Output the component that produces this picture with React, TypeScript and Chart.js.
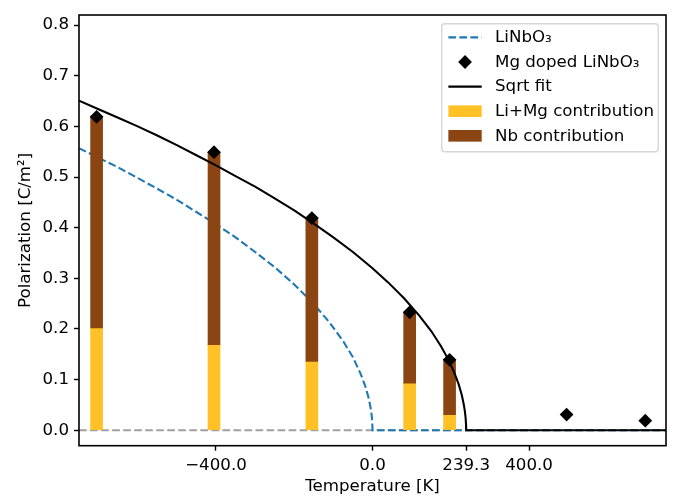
import React, { useEffect, useRef } from 'react';
import { Chart, registerables } from 'chart.js';

Chart.register(...registerables);

// ---- data ----
const sampleT = [-705, -405, -155, 95, 197];
const liMgContribution = [0.202, 0.169, 0.136, 0.093, 0.031];
const totalPolarization = [0.619, 0.549, 0.419, 0.233, 0.139];

const dopedT = [-705, -405, -155, 95, 197, 496, 697];
const dopedP = [0.619, 0.549, 0.419, 0.233, 0.139, 0.031, 0.019];

const fitT = [-750, -700, -650, -600, -550, -500, -450, -400, -350, -300, -250, -200, -150, -100, -50, 0, 40, 80, 120, 150, 175, 195, 210, 220, 228, 233, 236, 238, 239, 239.3, 750];
const fitP = [0.651, 0.634, 0.617, 0.6, 0.582, 0.563, 0.543, 0.523, 0.502, 0.481, 0.458, 0.434, 0.408, 0.381, 0.352, 0.32, 0.292, 0.261, 0.226, 0.196, 0.166, 0.138, 0.112, 0.091, 0.07, 0.052, 0.038, 0.024, 0.011, 0, 0];

const pureT = [-750, -700, -650, -600, -550, -500, -450, -400, -350, -300, -250, -200, -150, -110, -75, -50, -30, -18, -10, -5, -2, -0.5, 0, 750];
const pureP = [0.557, 0.538, 0.519, 0.498, 0.477, 0.455, 0.431, 0.407, 0.381, 0.352, 0.322, 0.288, 0.249, 0.213, 0.176, 0.144, 0.111, 0.086, 0.064, 0.045, 0.029, 0.014, 0, 0];

const zeroT = [-750, 750];
const zeroP = [0, 0];

const xTicks = [-400, 0, 239.3, 400];
const yTicks = [0, 0.1, 0.2, 0.3, 0.4, 0.5, 0.6, 0.7, 0.8];

const labelPure = 'LiNbO\u2083';
const labelDoped = 'Mg doped LiNbO\u2083';
const labelFit = 'Sqrt fit';
const labelLiMg = 'Li+Mg contribution';
const labelNb = 'Nb contribution';

const BLUE = '#1f77b4';
const YELLOW = '#FFC125';
const BROWN = '#8B4513';
const FS = 16.67;
const FONT = 'DejaVu Sans';

const fmt = (v: number) => Number(v).toFixed(1).replace('-', '\u2212');

const spinesPlugin = {
  id: 'spines',
  afterDatasetsDraw(chart: any) {
    const { ctx, chartArea: a } = chart;
    ctx.save();
    ctx.strokeStyle = '#000';
    ctx.lineWidth = 1.6;
    ctx.strokeRect(a.left, a.top, a.right - a.left, a.bottom - a.top);
    ctx.restore();
  },
};

const legendPlugin = {
  id: 'mplLegend',
  afterDraw(chart: any) {
    const { ctx, chartArea: a } = chart;
    const items = chart.data.datasets.filter((d: any) => d.legendKind);
    ctx.save();
    ctx.font = `${FS}px "${FONT}"`;
    const pad = 0.4 * FS;
    const handleLen = 2 * FS;
    const textPad = 0.8 * FS;
    const rowH = 24.6;
    const boxW = 216.6;
    const boxH = 128;
    const right = a.right - 7.7;
    const top = a.top + 8.7;
    const left = right - boxW;
    const r = 3;
    ctx.beginPath();
    ctx.moveTo(left + r, top);
    ctx.lineTo(right - r, top);
    ctx.arcTo(right, top, right, top + r, r);
    ctx.lineTo(right, top + boxH - r);
    ctx.arcTo(right, top + boxH, right - r, top + boxH, r);
    ctx.lineTo(left + r, top + boxH);
    ctx.arcTo(left, top + boxH, left, top + boxH - r, r);
    ctx.lineTo(left, top + r);
    ctx.arcTo(left, top, left + r, top, r);
    ctx.closePath();
    ctx.fillStyle = 'rgba(255,255,255,0.8)';
    ctx.fill();
    ctx.strokeStyle = 'rgba(204,204,204,0.8)';
    ctx.lineWidth = 1.39;
    ctx.stroke();

    items.forEach((d: any, i: number) => {
      const cy = top + 13.7 + i * rowH;
      const hx0 = left + pad;
      const hx1 = hx0 + handleLen;
      if (d.legendKind === 'line') {
        ctx.beginPath();
        ctx.setLineDash(d.borderDash || []);
        ctx.strokeStyle = d.borderColor;
        ctx.lineWidth = d.borderWidth;
        ctx.moveTo(hx0, cy);
        ctx.lineTo(hx1, cy);
        ctx.stroke();
        ctx.setLineDash([]);
      } else if (d.legendKind === 'marker') {
        const cx = (hx0 + hx1) / 2;
        const rr = d.pointRadius;
        ctx.beginPath();
        ctx.moveTo(cx - rr, cy);
        ctx.lineTo(cx, cy - rr);
        ctx.lineTo(cx + rr, cy);
        ctx.lineTo(cx, cy + rr);
        ctx.closePath();
        ctx.fillStyle = d.pointBackgroundColor;
        ctx.fill();
        ctx.strokeStyle = d.pointBorderColor;
        ctx.lineWidth = d.pointBorderWidth;
        ctx.stroke();
      } else if (d.legendKind === 'patch') {
        const h = 0.7 * FS;
        ctx.fillStyle = d.backgroundColor;
        ctx.fillRect(hx0, cy - h / 2, handleLen, h);
      }
      ctx.fillStyle = '#000';
      ctx.textAlign = 'left';
      ctx.textBaseline = 'middle';
      ctx.fillText(d.label, hx1 + textPad, cy + 0.5);
    });
    ctx.restore();
  },
};

export default function App() {
  const ref = useRef<HTMLCanvasElement | null>(null);

  useEffect(() => {
    if (!ref.current) return;
    Chart.defaults.font.family = FONT;
    Chart.defaults.font.size = FS;
    Chart.defaults.color = '#000';

    const pts = (xs: number[], ys: number[]) => xs.map((x, i) => ({ x, y: ys[i] }));

    const chart = new Chart(ref.current, {
      type: 'bar',
      data: {
        datasets: [
          {
            type: 'line',
            label: labelPure,
            legendKind: 'line',
            data: pts(pureT, pureP),
            borderColor: BLUE,
            borderWidth: 2.08,
            borderDash: [7.7, 3.33],
            pointRadius: 0,
            tension: 0,
            fill: false,
            order: 5,
            clip: 0,
          } as any,
          {
            type: 'line',
            label: labelDoped,
            legendKind: 'marker',
            data: pts(dopedT, dopedP),
            showLine: false,
            pointStyle: 'rectRot',
            pointRadius: 5.9,
            pointBackgroundColor: '#000',
            pointBorderColor: '#000',
            pointBorderWidth: 1.39,
            order: 1,
            clip: false,
          } as any,
          {
            type: 'line',
            label: labelFit,
            legendKind: 'line',
            data: pts(fitT, fitP),
            borderColor: '#000',
            borderWidth: 2.08,
            pointRadius: 0,
            tension: 0,
            fill: false,
            order: 2,
            clip: 0,
          } as any,
          {
            type: 'bar',
            label: labelLiMg,
            legendKind: 'patch',
            data: sampleT.map((x, i) => ({ x, y: [0, liMgContribution[i]] })),
            backgroundColor: YELLOW,
            borderWidth: 0,
            barThickness: 12,
            grouped: false,
            order: 4,
          } as any,
          {
            type: 'bar',
            label: labelNb,
            legendKind: 'patch',
            data: sampleT.map((x, i) => ({ x, y: [liMgContribution[i], totalPolarization[i]] })),
            backgroundColor: BROWN,
            borderWidth: 0,
            barThickness: 12,
            grouped: false,
            order: 3,
          } as any,
          {
            type: 'line',
            label: 'zero',
            data: pts(zeroT, zeroP),
            borderColor: '#a0a0a0',
            borderWidth: 2.08,
            borderDash: [7.7, 3.33],
            pointRadius: 0,
            fill: false,
            order: 6,
            clip: 0,
          } as any,
        ],
      },
      options: {
        responsive: false,
        animation: false,
        events: [],
        layout: { padding: { left: 0, right: 8, top: 7.3, bottom: 0 } },
        plugins: { legend: { display: false }, tooltip: { enabled: false } },
        scales: {
          x: {
            type: 'linear',
            min: -750,
            max: 750,
            offset: false,
            afterBuildTicks: (s: any) => { s.ticks = xTicks.map((v) => ({ value: v })); },
            afterFit: (s: any) => { s.height = 52.3; },
            ticks: { callback: (v: any) => fmt(v), padding: 5, color: '#000', font: { size: FS }, maxRotation: 0, autoSkip: false },
            grid: { display: true, drawOnChartArea: false, drawTicks: true, tickLength: 5, tickColor: '#000', tickWidth: 1.4, offset: false },
            border: { display: false },
            title: { display: true, text: 'Temperature [K]', color: '#000', font: { size: FS }, padding: { top: 0, bottom: 1 } },
          },
          y: {
            type: 'linear',
            min: -0.0305,
            max: 0.82,
            afterBuildTicks: (s: any) => { s.ticks = yTicks.map((v) => ({ value: v })); },
            afterFit: (s: any) => { s.width = 79; },
            ticks: { callback: (v: any) => fmt(v), padding: 5, color: '#000', font: { size: FS }, autoSkip: false },
            grid: { display: true, drawOnChartArea: false, drawTicks: true, tickLength: 5, tickColor: '#000', tickWidth: 1.4 },
            border: { display: false },
            title: { display: true, text: 'Polarization [C/m\u00b2]', color: '#000', font: { size: FS }, padding: { top: 15.5, bottom: 0 } },
          },
        },
      } as any,
      plugins: [spinesPlugin, legendPlugin],
    });
    return () => chart.destroy();
  }, []);

  return (
    <div style={{ position: 'fixed', left: 0, top: 0, width: 674, height: 498, background: '#fff' }}>
      <canvas ref={ref} width={674} height={498} />
    </div>
  );
}
